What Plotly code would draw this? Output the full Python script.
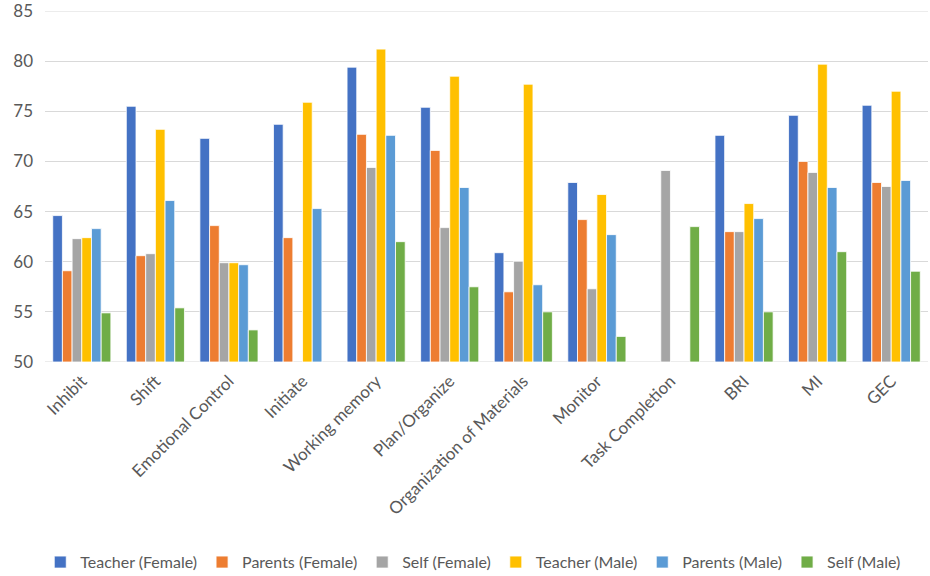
import plotly.graph_objects as go

categories = ["Inhibit", "Shift", "Emotional Control", "Initiate", "Working memory",
              "Plan/Organize", "Organization of Materials", "Monitor", "Task Completion",
              "BRI", "MI", "GEC"]

teacher_female = [64.6, 75.5, 72.3, 73.7, 79.4, 75.4, 60.9, 67.9, None, 72.6, 74.6, 75.6]
parents_female = [59.1, 60.6, 63.6, 62.4, 72.7, 71.1, 57.0, 64.2, None, 63.0, 70.0, 67.9]
self_female = [62.3, 60.8, 59.9, None, 69.4, 63.4, 60.05, 57.3, 69.1, 63.0, 68.9, 67.5]
teacher_male = [62.4, 73.2, 59.9, 75.9, 81.2, 78.5, 77.7, 66.7, None, 65.8, 79.7, 77.0]
parents_male = [63.3, 66.1, 59.7, 65.3, 72.6, 67.4, 57.7, 62.7, None, 64.3, 67.4, 68.1]
self_male = [54.9, 55.4, 53.2, None, 62.0, 57.5, 55.0, 52.55, 63.5, 55.0, 61.0, 59.05]

series = [
    ("Teacher (Female)", teacher_female, "#4472C4"),
    ("Parents (Female)", parents_female, "#ED7D31"),
    ("Self (Female)", self_female, "#A5A5A5"),
    ("Teacher (Male)", teacher_male, "#FFC000"),
    ("Parents (Male)", parents_male, "#5B9BD5"),
    ("Self (Male)", self_male, "#70AD47"),
]

fig = go.Figure()
for name, vals, color in series:
    fig.add_trace(go.Bar(
        x=categories, y=[None if v is None else v - 50 for v in vals], base=50,
        name=name, marker=dict(color=color, line=dict(color="white", width=0.8)),
    ))

font = "Lato, Open Sans, sans-serif"
fig.update_layout(
    width=930, height=576,
    margin=dict(l=45, r=2, t=11, b=214, autoexpand=False),
    barmode="group", bargap=0.21, bargroupgap=0.0,
    plot_bgcolor="white", paper_bgcolor="white",
    font=dict(family=font, size=16, color="#595959"),
    showlegend=True,
    legend=dict(orientation="h", x=0.485, xanchor="center",
                yref="container", y=0.024, yanchor="middle",
                font=dict(size=16, color="#595959"), traceorder="normal",
                itemwidth=30, tracegroupgap=0),
    xaxis=dict(tickangle=-45, showgrid=False, ticks="", showline=False, automargin=False,
               ticklabelstandoff=5,
               tickfont=dict(size=17, color="#595959")),
    yaxis=dict(range=[50, 85], tick0=50, dtick=5, showgrid=True, gridcolor="#D9D9D9",
               gridwidth=1, zeroline=False, showline=False, ticks="", automargin=False,
               ticklabelstandoff=11, ticklabeloverflow="allow",
               tickfont=dict(size=17, color="#595959")),
)
fig.add_hline(y=50, line=dict(color="#D9D9D9", width=1), layer="below")
fig.add_hline(y=85, line=dict(color="#D9D9D9", width=1), layer="below")

fig.write_html("out.html")
